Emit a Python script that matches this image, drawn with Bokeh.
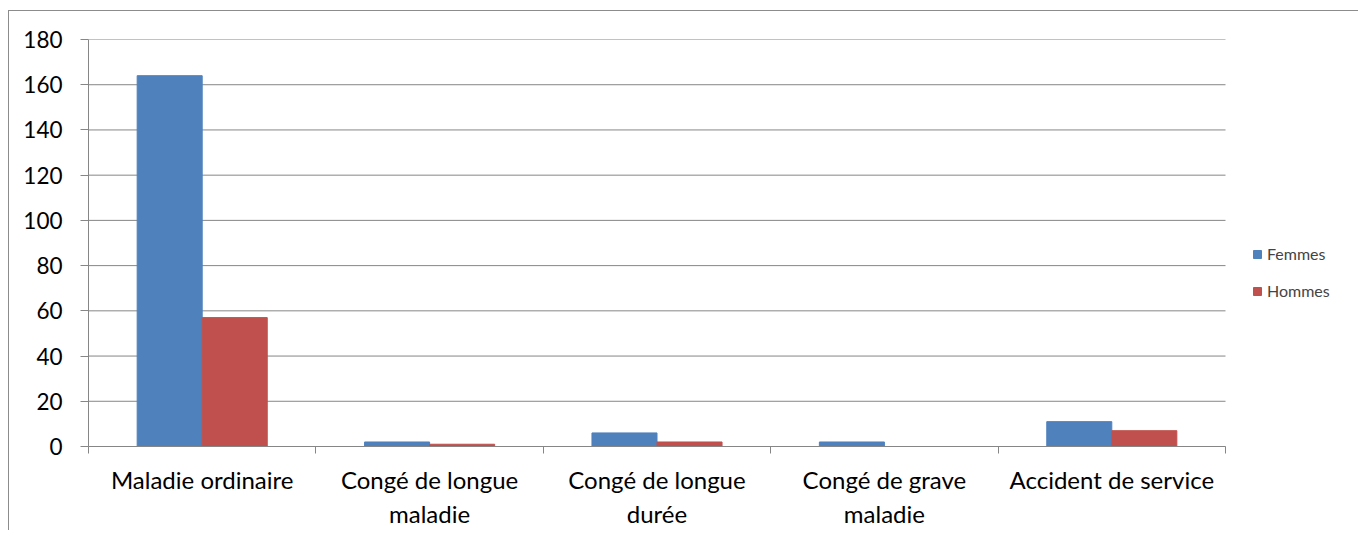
import numpy as np
from bokeh.plotting import figure
from bokeh.models import FixedTicker, Legend, LegendItem, Range1d
from bokeh.embed import file_html
from bokeh.resources import INLINE

categories = ["Maladie ordinaire", "Congé de longue\nmaladie", "Congé de longue\ndurée",
              "Congé de grave\nmaladie", "Accident de service"]
femmes = [164, 2, 6, 2, 11]
hommes = [57, 1, 2, 0, 7]
y_ticks = [0, 20, 40, 60, 80, 100, 120, 140, 160, 180]

FONT = "Lato"
GRAY = "#868686"
BLUE = "#4F81BD"
RED = "#C0504D"

n = len(categories)
centers = np.arange(n) + 0.5
bw = 0.286

W, H = 1350, 520
BL, BR, BT, BB = 79, 4, 28, 84
plot_px = 1137  # pixel width of the category area
x_end = n * (W - BL - BR) / plot_px

p = figure(width=W, height=H, output_backend="svg", toolbar_location=None,
           x_range=Range1d(0, x_end), y_range=Range1d(0, 180),
           min_border_left=BL, min_border_right=BR, min_border_top=BT, min_border_bottom=BB)
p.styles = {"border-left": "1px solid #8c8c8c", "border-top": "1px solid #8c8c8c",
            "margin-top": "10px", "margin-left": "8px"}
p.outline_line_color = None
p.background_fill_color = "white"
p.xgrid.grid_line_color = None
p.ygrid.grid_line_color = None

# horizontal gridlines limited to the category area
p.segment(x0=[0] * len(y_ticks), x1=[n] * len(y_ticks), y0=y_ticks, y1=y_ticks,
          line_color=GRAY, line_width=1)

rf = p.vbar(x=centers - bw / 2, top=femmes, width=bw, fill_color=BLUE, line_color=BLUE)
rh = p.vbar(x=centers + bw / 2, top=hommes, width=bw, fill_color=RED, line_color=RED)

# x axis
xa = p.xaxis[0]
xa.bounds = (0, n)
xa.ticker = FixedTicker(ticks=list(centers), minor_ticks=list(range(n + 1)))
xa.major_label_overrides = {float(c): lab for c, lab in zip(centers, categories)}
xa.major_tick_out = 0
xa.major_tick_in = 0
xa.minor_tick_out = 7
xa.minor_tick_in = 0
xa.minor_tick_line_color = GRAY
xa.axis_line_color = GRAY
xa.major_label_text_font = FONT
xa.major_label_text_font_size = "24px"
xa.major_label_text_color = "black"
xa.major_label_standoff = 11

# y axis
ya = p.yaxis[0]
ya.ticker = FixedTicker(ticks=y_ticks, minor_ticks=[])
ya.major_tick_out = 8
ya.major_tick_in = 0
ya.major_tick_line_color = GRAY
ya.axis_line_color = GRAY
ya.major_label_text_font = FONT
ya.major_label_text_font_size = "22.5px"
ya.major_label_text_color = "black"
ya.major_label_standoff = 18

legend = Legend(items=[LegendItem(label="Femmes", renderers=[rf]),
                       LegendItem(label="Hommes", renderers=[rh])],
                location=(1164, 146), border_line_color=None, background_fill_alpha=0,
                label_text_font=FONT, label_text_font_size="16px",
                glyph_width=10, glyph_height=10, spacing=18, label_standoff=5,
                label_height=19, padding=0, margin=0)
p.add_layout(legend, "center")

open("out.html", "w").write(file_html(p, INLINE))
